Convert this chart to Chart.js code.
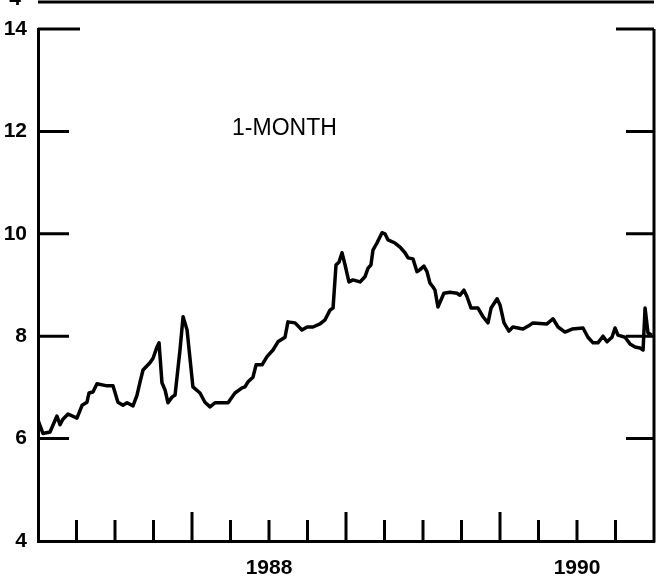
<!DOCTYPE html>
<html>
<head>
<meta charset="utf-8">
<script src="https://cdn.jsdelivr.net/npm/chart.js@4.4.0/dist/chart.umd.min.js"></script>
<style>
  html, body { margin: 0; padding: 0; background: #fff; }
  #wrap { width: 660px; height: 577px; }
</style>
</head>
<body>
<div id="wrap"><canvas id="chart"></canvas></div>
<script>
// decimal years
const years = [
  1987.000, 1987.032, 1987.078, 1987.123, 1987.143, 1987.162, 1987.195, 1987.253, 1987.286, 1987.318,
  1987.331, 1987.357, 1987.383, 1987.448, 1987.487, 1987.519, 1987.552, 1987.578, 1987.617, 1987.643,
  1987.662, 1987.682, 1987.727, 1987.747, 1987.773, 1987.786, 1987.805, 1987.825, 1987.844, 1987.870,
  1987.890, 1987.922, 1987.942, 1987.968, 1988.006, 1988.052, 1988.084, 1988.117, 1988.149, 1988.234,
  1988.279, 1988.325, 1988.344, 1988.364, 1988.396, 1988.416, 1988.455, 1988.487, 1988.526, 1988.558,
  1988.604, 1988.623, 1988.669, 1988.714, 1988.747, 1988.786, 1988.831, 1988.864, 1988.896, 1988.916,
  1988.935, 1988.955, 1988.974, 1988.994, 1989.019, 1989.045, 1989.091, 1989.123, 1989.143, 1989.162,
  1989.175, 1989.201, 1989.234, 1989.253, 1989.273, 1989.318, 1989.351, 1989.383, 1989.403, 1989.435,
  1989.461, 1989.481, 1989.506, 1989.526, 1989.545, 1989.565, 1989.578, 1989.597, 1989.623, 1989.636,
  1989.675, 1989.721, 1989.740, 1989.766, 1989.786, 1989.812, 1989.857, 1989.890, 1989.922, 1989.942,
  1989.955, 1989.981, 1990.000, 1990.026, 1990.058, 1990.084, 1990.149, 1990.195, 1990.214, 1990.305,
  1990.344, 1990.377, 1990.422, 1990.468, 1990.539, 1990.571, 1990.604, 1990.636, 1990.669, 1990.695,
  1990.727, 1990.747, 1990.766, 1990.812, 1990.844, 1990.877, 1990.909, 1990.929, 1990.942, 1990.961,
  1990.987,
]
// 1-month rate, percent
const rates = [
  6.36, 6.10, 6.13, 6.44, 6.27, 6.38, 6.48, 6.40, 6.65, 6.71,
  6.89, 6.91, 7.07, 7.03, 7.03, 6.71, 6.65, 6.70, 6.64, 6.85,
  7.10, 7.34, 7.48, 7.57, 7.79, 7.87, 7.09, 6.95, 6.70, 6.81,
  6.85, 7.73, 8.38, 8.12, 7.01, 6.89, 6.71, 6.62, 6.70, 6.70,
  6.89, 6.99, 7.01, 7.11, 7.20, 7.44, 7.44, 7.60, 7.73, 7.89,
  7.98, 8.28, 8.26, 8.12, 8.18, 8.18, 8.24, 8.32, 8.51, 8.55,
  9.39, 9.45, 9.63, 9.39, 9.06, 9.10, 9.06, 9.16, 9.33, 9.39,
  9.68, 9.82, 10.02, 10.00, 9.88, 9.82, 9.74, 9.63, 9.53, 9.51,
  9.26, 9.30, 9.37, 9.26, 9.04, 8.96, 8.90, 8.57, 8.75, 8.84,
  8.86, 8.84, 8.80, 8.90, 8.77, 8.55, 8.55, 8.38, 8.26, 8.55,
  8.61, 8.73, 8.61, 8.26, 8.10, 8.18, 8.14, 8.22, 8.26, 8.24,
  8.34, 8.18, 8.08, 8.14, 8.16, 7.98, 7.87, 7.87, 8.00, 7.89,
  7.98, 8.16, 8.02, 7.98, 7.85, 7.79, 7.77, 7.73, 8.55, 8.06,
  8.02,
]

const yTicks = [4, 6, 8, 10, 12, 14]
const quarterTicks = [
  1987.25, 1987.5, 1987.75, 1988, 1988.25, 1988.5, 1988.75, 1989,
  1989.25, 1989.5, 1989.75, 1990, 1990.25, 1990.5, 1990.75,
]
const yearTicks = [1988, 1989, 1990]
const xLabelPositions = [1988.5, 1990.5]
const xLabels = ['1988', '1990']
const seriesLabel = '1-MONTH'

const FONT = '"Liberation Sans", Arial, Helvetica, sans-serif'
Chart.defaults.font.family = FONT
Chart.defaults.color = '#000'

// inward tick marks, right border, series label, and the edge of the panel above
const framePlugin = {
  id: 'frame',
  afterDraw(chart) {
    const {ctx, chartArea: a, scales: {x, y}} = chart
    ctx.save()
    ctx.strokeStyle = '#000'
    ctx.lineWidth = 3
    ctx.beginPath()
    ctx.moveTo(a.right, a.top)
    ctx.lineTo(a.right, a.bottom + 1.5)
    for (let v of yTicks) {
      if (v === 4) continue
      let py = y.getPixelForValue(v)
      ctx.moveTo(a.left, py)
      ctx.lineTo(a.left + (v === 14 ? 42 : 31), py)
      ctx.moveTo(a.right, py)
      ctx.lineTo(a.right - (v === 14 ? 38 : 28), py)
    }
    for (let v of quarterTicks) {
      let px = x.getPixelForValue(v)
      ctx.moveTo(px, a.bottom)
      ctx.lineTo(px, a.bottom - (yearTicks.includes(v) ? 29 : 21))
    }
    // bottom axis of the panel above
    ctx.moveTo(a.left, 2)
    ctx.lineTo(a.right, 2)
    ctx.stroke()

    ctx.fillStyle = '#000'
    ctx.textAlign = 'center'
    ctx.textBaseline = 'middle'
    ctx.font = '23px ' + FONT
    ctx.fillText(seriesLabel, x.getPixelForValue(1988.6), y.getPixelForValue(12.05))
    ctx.font = 'bold 21px ' + FONT
    ctx.textBaseline = 'alphabetic'
    ctx.fillText('4', 15, 5)
    ctx.restore()
  },
}

new Chart(document.getElementById('chart'), {
  type: 'line',
  data: {
    datasets: [{
      label: seriesLabel,
      data: years.map((t, i) => ({x: t, y: rates[i]})),
      borderColor: '#000',
      borderWidth: 3.5,
      borderJoinStyle: 'round',
      pointRadius: 0,
      tension: 0,
    }],
  },
  options: {
    responsive: true,
    maintainAspectRatio: false,
    animation: false,
    layout: {padding: {top: 29, right: 6, left: 0, bottom: 0}},
    plugins: {
      legend: {display: false},
      tooltip: {enabled: false},
    },
    scales: {
      x: {
        type: 'linear',
        min: 1987,
        max: 1991,
        grid: {display: false, drawTicks: false},
        border: {display: true, color: '#000', width: 3},
        afterBuildTicks: (scale) => {
          scale.ticks = xLabelPositions.map((v) => ({value: v}))
        },
        afterFit: (scale) => { scale.height = 36 },
        ticks: {
          autoSkip: false,
          maxRotation: 0,
          padding: 15,
          font: {size: 21, weight: 'bold'},
          callback: (v) => xLabels[xLabelPositions.indexOf(v)],
        },
      },
      y: {
        min: 4,
        max: 14,
        grid: {display: false, drawTicks: false},
        border: {display: true, color: '#000', width: 3},
        afterBuildTicks: (scale) => {
          scale.ticks = yTicks.map((v) => ({value: v}))
        },
        afterFit: (scale) => { scale.width = 38 },
        ticks: {
          padding: 11,
          font: {size: 21, weight: 'bold'},
        },
      },
    },
  },
  plugins: [framePlugin],
})
</script>
</body>
</html>
